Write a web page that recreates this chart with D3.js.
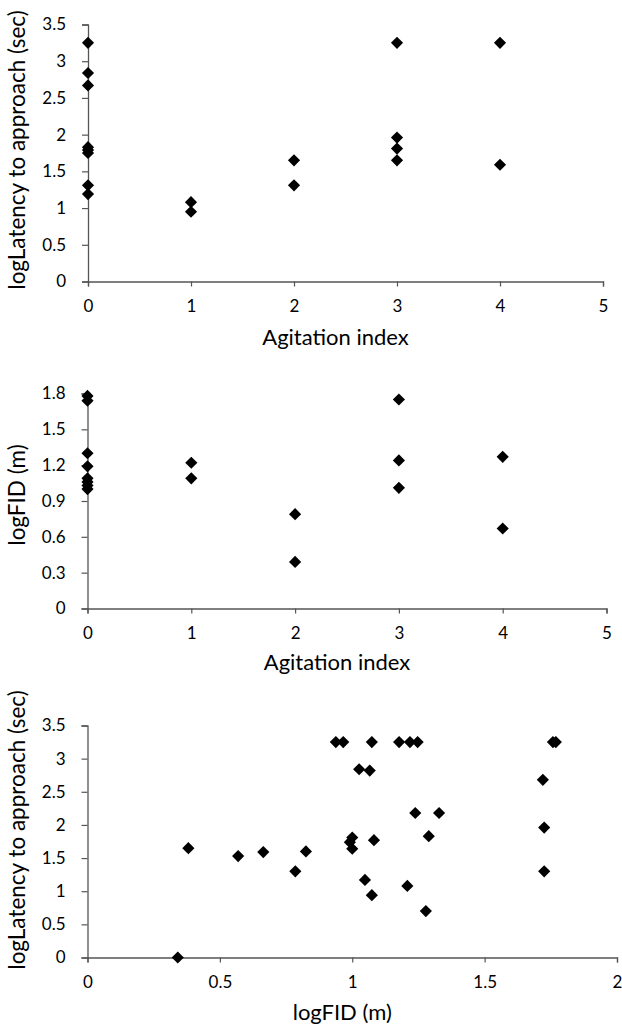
<!DOCTYPE html>
<html>
<head>
<meta charset="utf-8">
<script src="https://cdn.jsdelivr.net/npm/d3@7"></script>
<style>
  body { margin: 0; background: #fff; }
  svg text { font-family: Lato, "Open Sans", sans-serif; fill: #000; }
</style>
</head>
<body>
<script>
// panel 1: agitation index vs logLatency
var agit1X = [0,0,0,0,0,0,0,0, 1,1, 2,2, 3,3,3,3, 4,4];
var agit1Y = [3.25,2.84,2.67,1.83,1.79,1.75,1.31,1.19, 1.08,0.95, 1.65,1.31, 3.25,1.96,1.81,1.65, 3.25,1.59];

// panel 2: agitation index vs logFID
var agit2X = [0,0,0,0,0,0,0,0, 1,1, 2,2, 3,3,3, 4,4];
var agit2Y = [1.78,1.74,1.30,1.19,1.09,1.06,1.03,1.00, 1.22,1.09, 0.79,0.39, 1.75,1.24,1.01, 1.27,0.67];

// panel 3: logFID vs logLatency
var fidX = [0.341,0.381,0.569,0.664,0.785,0.825, 0.938,0.966,1.074,1.177,1.218,1.247,1.758,1.769,
            1.026,1.066,1.72, 1.238,1.328, 1.289,1.725, 1.0,0.991,1.0,1.082,
            1.048,1.074,1.208,1.278,1.725];
var fidY = [0,1.65,1.53,1.59,1.30,1.60, 3.25,3.25,3.25,3.25,3.25,3.25,3.25,3.25,
            2.84,2.82,2.68, 2.18,2.18, 1.83,1.96, 1.81,1.74,1.64,1.77,
            1.17,0.94,1.08,0.70,1.30];

var agitTicks = [0,1,2,3,4,5];
var latTicks = [0,0.5,1,1.5,2,2.5,3,3.5];
var fidTicksY = [0,0.3,0.6,0.9,1.2,1.5,1.8];
var fidTicksX = [0,0.5,1,1.5,2];

var W = 622, H = 1028;
var svg = d3.select("body").append("svg").attr("width", W).attr("height", H);

var panels = [
  {xs: agit1X, ys: agit1Y, xDom: [0,5], yDom: [0,3.5], xTicks: agitTicks, yTicks: latTicks,
   left: 88, right: 603, top: 24.5, bottom: 281.5,
   xTitle: "Agitation index", yTitle: "logLatency to approach (sec)", xTitleY: 345, yTitleCy: 150},
  {xs: agit2X, ys: agit2Y, xDom: [0,5], yDom: [0,1.8], xTicks: agitTicks, yTicks: fidTicksY,
   left: 87.5, right: 606.5, top: 393.5, bottom: 608.5,
   xTitle: "Agitation index", yTitle: "logFID (m)", xTitleY: 670, yTitleCy: 495},
  {xs: fidX, ys: fidY, xDom: [0,2], yDom: [0,3.5], xTicks: fidTicksX, yTicks: latTicks,
   left: 87.5, right: 617, top: 725.5, bottom: 957.5,
   xTitle: "logFID (m)", yTitle: "logLatency to approach (sec)", xTitleY: 1020, yTitleCy: 830}
];

var diamond = d3.symbol().type(d3.symbolSquare).size(74);

panels.forEach(function(p) {
  var x = d3.scaleLinear().domain(p.xDom).range([p.left, p.right]);
  var y = d3.scaleLinear().domain(p.yDom).range([p.bottom, p.top]);
  var g = svg.append("g");

  var yAxis = g.append("g")
    .attr("transform", "translate(" + p.left + ",0)")
    .call(d3.axisLeft(y).tickValues(p.yTicks).tickSize(6).tickPadding(16)
      .tickFormat(function(d) { return String(d); }));
  var xAxis = g.append("g")
    .attr("transform", "translate(0," + p.bottom + ")")
    .call(d3.axisBottom(x).tickValues(p.xTicks).tickSize(5).tickPadding(13)
      .tickFormat(function(d) { return String(d); }));

  [xAxis, yAxis].forEach(function(a) {
    a.select(".domain").attr("stroke", "#555").attr("stroke-width", 1.3);
    a.selectAll(".tick line").attr("stroke", "#555").attr("stroke-width", 1.2);
    a.selectAll(".tick text").attr("font-size", 17).attr("font-family", "Lato, sans-serif").attr("fill", "#000");
  });
  xAxis.selectAll(".tick text").attr("dy", "0.71em");

  g.selectAll("path.pt")
    .data(p.xs.map(function(v, i) { return [v, p.ys[i]]; }))
    .enter().append("path")
    .attr("class", "pt")
    .attr("d", diamond)
    .attr("fill", "#000")
    .attr("transform", function(d) {
      return "translate(" + x(d[0]) + "," + y(d[1]) + ") rotate(45)";
    });

  g.append("text")
    .attr("x", (p.left + p.right) / 2 - 10)
    .attr("y", p.xTitleY)
    .attr("text-anchor", "middle")
    .attr("font-size", 22)
    .text(p.xTitle);

  g.append("text")
    .attr("transform", "translate(25," + p.yTitleCy + ") rotate(-90)")
    .attr("text-anchor", "middle")
    .attr("font-size", 22.5)
    .text(p.yTitle);
});
</script>
</body>
</html>
